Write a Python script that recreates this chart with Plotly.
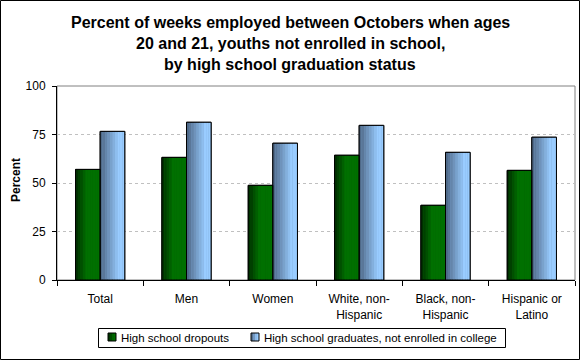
import plotly.graph_objects as go

categories = ["Total", "Men", "Women", "White, non-<br>Hispanic", "Black, non-<br>Hispanic", "Hispanic or<br>Latino"]
dropouts = [57.0, 63.2, 48.8, 64.3, 38.5, 56.5]
graduates = [76.6, 81.3, 70.5, 79.7, 65.8, 73.6]
series_names = ["High school dropouts", "High school graduates, not enrolled in college"]
y_ticks = [0, 25, 50, 75, 100]
title_lines = ["Percent of weeks employed between Octobers when ages",
               "20 and 21, youths not enrolled in school,",
               "by high school graduation status"]

W, H = 580, 360
L, R, T, B = 57, 5, 86, 80
PW, PH = W - L - R, H - T - B
FONT = "Liberation Sans, Arial, sans-serif"

def px(x):
    return (x - L) / PW

def py(y):
    return (H - B - y) / PH

def lerp(c1, c2, t):
    return "rgb(%d,%d,%d)" % tuple(round(a + (b - a) * t) for a, b in zip(c1, c2))

BW = 0.285
N = 10
green_dark, green = (0, 40, 0), (0, 112, 0)
blue_dark, blue = (74, 98, 128), (153, 204, 255)

fig = go.Figure()

# base bars (solid fill)
fig.add_trace(go.Bar(x=categories, y=dropouts, name=series_names[0], offset=-BW, width=BW,
                     marker=dict(color="rgb(0,100,0)", line=dict(color="black", width=1)),
                     hoverinfo="skip", showlegend=False))
fig.add_trace(go.Bar(x=categories, y=graduates, name=series_names[1], offset=0, width=BW,
                     marker=dict(color="rgb(120,160,205)", line=dict(color="black", width=1)),
                     hoverinfo="skip", showlegend=False))

# gradient slices
sw = BW / N
for i in range(N):
    t = (i + 0.5) / N
    gc = lerp(green_dark, green, min(t / 0.45, 1.0))
    bc = lerp(blue_dark, blue, min(t / 0.75, 1.0))
    fig.add_trace(go.Bar(x=categories, y=dropouts, offset=-BW + i * sw, width=sw,
                         marker=dict(color=gc, line=dict(width=0)), showlegend=False, hoverinfo="skip"))
    fig.add_trace(go.Bar(x=categories, y=graduates, offset=i * sw, width=sw,
                         marker=dict(color=bc, line=dict(width=0)), showlegend=False, hoverinfo="skip"))

# outlines
fig.add_trace(go.Bar(x=categories, y=dropouts, offset=-BW, width=BW, showlegend=False, hoverinfo="skip",
                     marker=dict(color="rgba(0,0,0,0)", line=dict(color="black", width=1))))
fig.add_trace(go.Bar(x=categories, y=graduates, offset=0, width=BW, showlegend=False, hoverinfo="skip",
                     marker=dict(color="rgba(0,0,0,0)", line=dict(color="black", width=1))))

annotations = []
for line, yc in zip(title_lines, [22.0, 43.5, 64.5]):
    annotations.append(dict(text=line, x=px(290), y=py(yc), xref="paper", yref="paper",
                            xanchor="center", yanchor="middle", showarrow=False,
                            font=dict(family=FONT, size=16, color="black", weight="bold")))
annotations.append(dict(text="Percent", x=px(16), y=py(180), xref="paper", yref="paper",
                        xanchor="center", yanchor="middle", showarrow=False, textangle=-90,
                        font=dict(family=FONT, size=12, color="black", weight="bold")))

shapes = [
    dict(type="rect", xref="paper", yref="paper", x0=0, x1=1, y0=0, y1=1,
         line=dict(color="#808080", width=1), layer="below"),
    dict(type="rect", xref="paper", yref="paper", x0=px(0.5), x1=px(W - 0.5), y0=py(0.5), y1=py(H - 0.5),
         line=dict(color="black", width=1)),
    # legend box
    dict(type="rect", xref="paper", yref="paper", x0=px(98.5), x1=px(505.5), y0=py(328.5), y1=py(347.5),
         line=dict(color="black", width=1), fillcolor="white"),
]

# legend entries (icon + text)
legend_items = [(108, 119, (green_dark, green), series_names[0]),
                (251, 262, (blue_dark, blue), series_names[1])]
for ix, tx, (c0, c1), name in legend_items:
    for k in range(4):
        shapes.append(dict(type="rect", xref="paper", yref="paper",
                           x0=px(ix + 2 * k), x1=px(ix + 2 * k + 2), y0=py(333), y1=py(341),
                           line=dict(width=0), fillcolor=lerp(c0, c1, min((k + 0.5) / 3, 1.0))))
    shapes.append(dict(type="rect", xref="paper", yref="paper", x0=px(ix), x1=px(ix + 8),
                       y0=py(333), y1=py(341), line=dict(color="black", width=1)))
    annotations.append(dict(text=name, x=px(tx), y=py(337.5), xref="paper", yref="paper",
                            xanchor="left", yanchor="middle", showarrow=False,
                            font=dict(family=FONT, size=11.5, color="black")))

fig.update_layout(
    width=W, height=H, margin=dict(l=L, r=R, t=T, b=B, autoexpand=False),
    paper_bgcolor="white", plot_bgcolor="white",
    barmode="overlay",
    font=dict(family=FONT, size=12, color="black"),
    annotations=annotations, shapes=shapes,
    showlegend=False,
)
fig.update_xaxes(type="category", tickson="boundaries", ticks="outside", ticklen=5, tickcolor="black",
                 showline=True, linecolor="black", linewidth=1, showgrid=False, ticklabelstandoff=8,
                 tickfont=dict(family=FONT, size=12, color="black"), fixedrange=True)
fig.update_yaxes(range=[0, 100], tickvals=y_ticks, ticks="outside", ticklen=4, tickcolor="black",
                 showline=True, linecolor="black", linewidth=1, ticklabelstandoff=4,
                 showgrid=True, gridcolor="#c0c0c0", griddash="3px,3px", gridwidth=1, zeroline=False,
                 tickfont=dict(family=FONT, size=12, color="black"), fixedrange=True)

fig.write_html("out.html", config={"displayModeBar": False},
               post_script="document.body.style.margin='0';document.body.style.padding='0';")
